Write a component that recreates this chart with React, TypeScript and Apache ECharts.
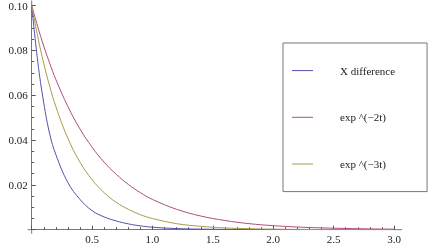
import React, { useEffect, useRef } from "react";
import * as echarts from "echarts";

const tValues = [0, 0.05, 0.1, 0.15, 0.2, 0.3, 0.4, 0.5, 0.6, 0.7, 0.8, 0.9, 1.0, 1.2, 1.4, 1.6, 1.8, 2.0, 2.2, 2.4, 2.6, 2.8, 3.0];
const xDifference = [0.1, 0.075, 0.0565, 0.0425, 0.0335, 0.021, 0.0135, 0.0085, 0.0057, 0.0039, 0.0026, 0.0017, 0.0011, 0.0005, 0.00025, 0.00012, 0.00006, 0.00003, 0.00002, 0.00001, 0.00001, 0, 0];
const expMinus2t = [0.1, 0.0905, 0.0819, 0.0741, 0.067, 0.0549, 0.0449, 0.0368, 0.0301, 0.0247, 0.0202, 0.0165, 0.0135, 0.0091, 0.0061, 0.0041, 0.0027, 0.0018, 0.0012, 0.0008, 0.00055, 0.00037, 0.00025];
const expMinus3t = [0.1, 0.0861, 0.0741, 0.0638, 0.0549, 0.0407, 0.0301, 0.0223, 0.0165, 0.0122, 0.0091, 0.0067, 0.005, 0.0027, 0.0015, 0.0008, 0.00045, 0.00025, 0.00014, 0.00007, 0.00004, 0.00002, 0.00001];
const seriesNames = ["X difference", "exp ^(\u22122t)", "exp ^(\u22123t)"];
const seriesColors = ["#5252ad", "#ad4f80", "#aa9a4c"];

const FONT = "'Liberation Serif', 'DejaVu Serif', serif";

export default function App() {
  const ref = useRef<HTMLDivElement>(null);
  useEffect(() => {
    if (!ref.current) return;
    const chart = echarts.init(ref.current, undefined, { renderer: "svg" });
    const pairs = (vals: number[]) => tValues.map((t, i) => [t, vals[i]]);
    const all = [xDifference, expMinus2t, expMinus3t];
    const axisColor = "#777";
    chart.setOption({
      animation: false,
      grid: { left: 31.7, right: 42, top: 5, bottom: 22.3, containLabel: false },
      legend: {
        orient: "vertical",
        left: 283,
        top: 43,
        padding: [22, 32, 22, 8.5],
        itemWidth: 21,
        itemHeight: 14,
        itemGap: 35.5,
        borderColor: "#777",
        borderWidth: 1,
        itemStyle: { opacity: 0, borderWidth: 0 },
        lineStyle: { width: 1 },
        textStyle: { fontFamily: FONT, fontSize: 11, color: "#222", padding: [0, 0, 0, 22] },
        data: seriesNames,
      },
      xAxis: {
        type: "value",
        min: 0,
        max: 3,
        interval: 0.5,
        splitLine: { show: false },
        axisLine: { onZero: true, lineStyle: { color: axisColor, width: 1 } },
        axisTick: { inside: true, length: 4, lineStyle: { color: "#555" } },
        minorTick: { show: true, splitNumber: 5, length: 2.5, lineStyle: { color: "#555" } },
        axisLabel: {
          margin: 4,
          fontFamily: FONT,
          fontSize: 11,
          color: "#222",
          formatter: (v: number) => (v === 0 ? "" : v.toFixed(1)),
        },
      },
      yAxis: {
        type: "value",
        min: 0,
        max: 0.1,
        interval: 0.02,
        splitLine: { show: false },
        axisLine: { show: true, onZero: true, lineStyle: { color: axisColor, width: 1 } },
        axisTick: { show: true, inside: true, length: 4, lineStyle: { color: "#555" } },
        minorTick: { show: true, splitNumber: 4, length: 2.5, lineStyle: { color: "#555" } },
        axisLabel: {
          margin: 4,
          fontFamily: FONT,
          fontSize: 11,
          color: "#222",
          formatter: (v: number) => (v === 0 ? "" : v.toFixed(2)),
        },
      },
      series: seriesNames.map((name, i) => ({
        name,
        type: "line",
        data: pairs(all[i]),
        smooth: 0.4,
        symbol: "none",
        color: seriesColors[i],
        lineStyle: { width: 1, color: seriesColors[i] },
      })),
    });
    const o = chart.convertToPixel({ gridIndex: 0 }, [0, 0]) as number[];
    const e = chart.convertToPixel({ gridIndex: 0 }, [3, 0]) as number[];
    const t = chart.convertToPixel({ gridIndex: 0 }, [0, 0.1]) as number[];
    const ls = { stroke: axisColor, lineWidth: 1 };
    chart.setOption({
      graphic: [
        { type: "line", shape: { x1: o[0] - 4, y1: o[1], x2: o[0], y2: o[1] }, style: ls, silent: true },
        { type: "line", shape: { x1: e[0], y1: e[1], x2: e[0] + 8, y2: e[1] }, style: ls, silent: true },
        { type: "line", shape: { x1: o[0], y1: o[1], x2: o[0], y2: o[1] + 4 }, style: ls, silent: true },
        { type: "line", shape: { x1: t[0], y1: t[1], x2: t[0], y2: t[1] - 5 }, style: ls, silent: true },
      ],
    });
    return () => chart.dispose();
  }, []);
  return <div ref={ref} style={{ position: "fixed", left: 0, top: 0, width: 436, height: 252 }} />;
}
